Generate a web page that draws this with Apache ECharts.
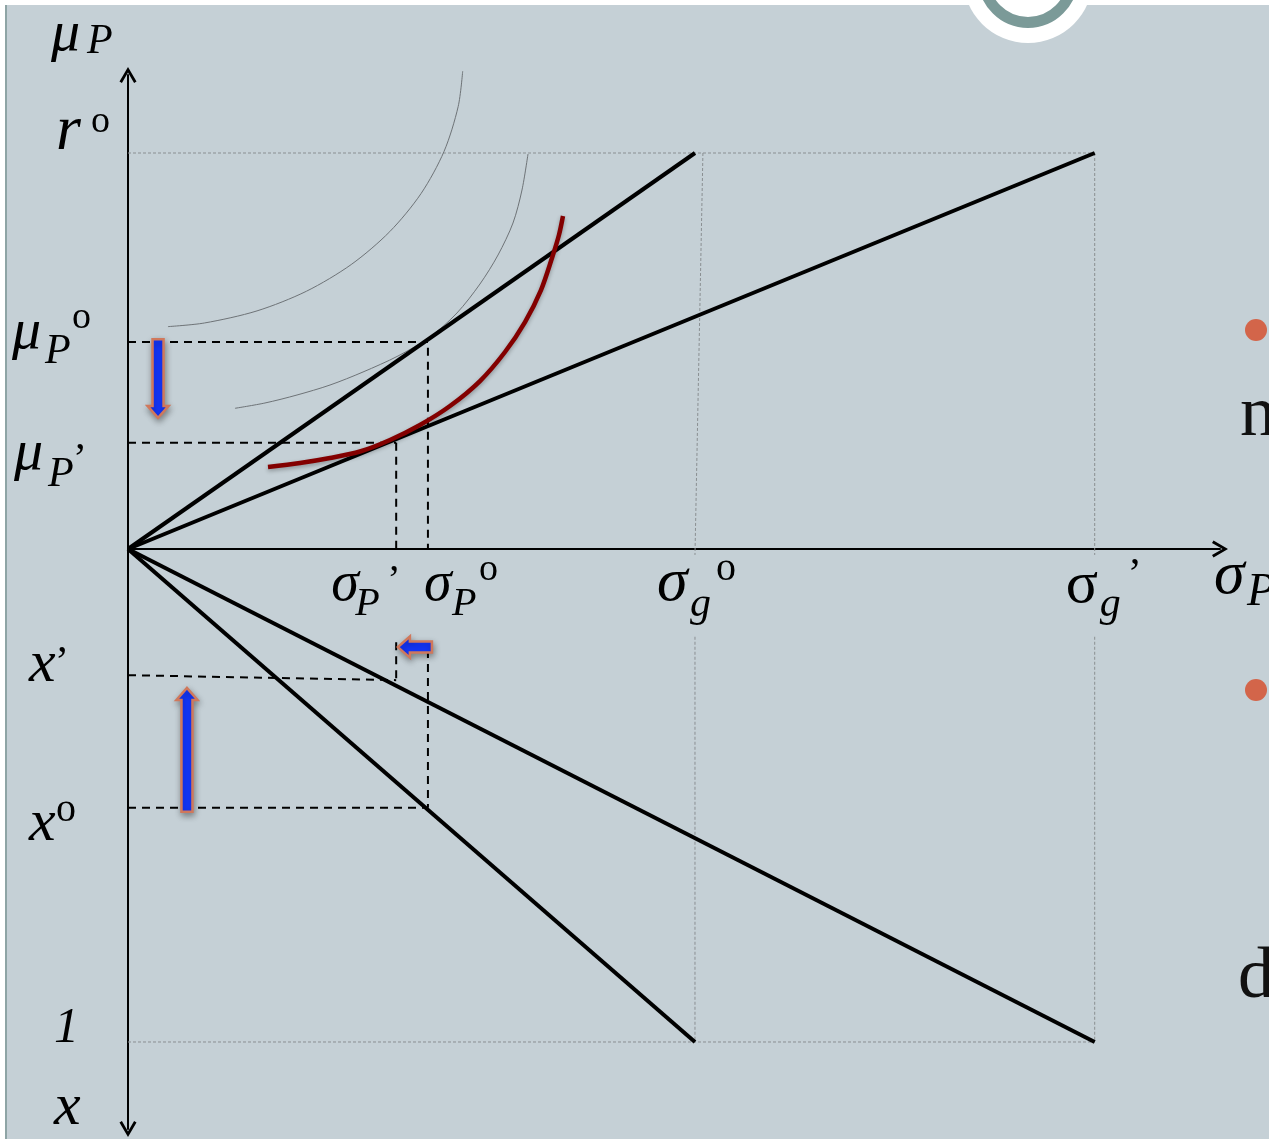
<!DOCTYPE html>
<html>
<head>
<meta charset="utf-8">
<script src="https://cdn.jsdelivr.net/npm/echarts@6/dist/echarts.min.js"></script>
<style>
  html, body { margin: 0; padding: 0; background: #ffffff; }
  #chart { width: 1269px; height: 1139px; }
</style>
</head>
<body>
<div id="chart"></div>
<script>
// Upper panel: expected return vs. standard deviation for two leverage lines.
// Lower panel: share x of wealth in the risky fund vs. standard deviation.
const rStar = 1;            // r°
const sigmaG0 = 1;          // σg°
const sigmaG1 = 1.705;      // σg'
const muP0 = 0.523;         // μP°
const muP1 = 0.268;         // μP'
const sigmaP0 = 0.529;      // σP°
const sigmaP1 = 0.473;      // σP'
const xShare0 = 0.525;      // x°
const xShare1 = [0.256, 0.266]; // x' (left end, right end of the guide)
const xOne = 1;             // x = 1

// axis ranges
const X_MAX = 1.926;
const MU_MAX = 1.197;
const XS_MAX = 1.1765;

// frontier of attainable (σ, μ) and two indifference curves
const frontier = [[0.2469, 0.2071], [0.3034, 0.2172], [0.3563, 0.2298], [0.4092, 0.2462],
                  [0.4621, 0.2753], [0.5150, 0.3131], [0.5679, 0.3611], [0.6208, 0.4242],
                  [0.6649, 0.4975], [0.7002, 0.5732], [0.7284, 0.6540], [0.7478, 0.7348],
                  [0.7601, 0.7929], [0.7672, 0.8409]];
const indiffOuter = [[0.0705, 0.5616], [0.1346, 0.5707], [0.2275, 0.6013], [0.3148, 0.6510],
                     [0.3937, 0.7184], [0.4617, 0.8015], [0.5169, 0.8977], [0.5575, 1.0043],
                     [0.5824, 1.1177], [0.5903, 1.2066]];
const indiffInner = [[0.1887, 0.3553], [0.2416, 0.3687], [0.2981, 0.3889], [0.3563, 0.4141],
                     [0.4145, 0.4470], [0.4762, 0.4874], [0.5326, 0.5354], [0.5802, 0.5960],
                     [0.6208, 0.6692], [0.6526, 0.7424], [0.6790, 0.8232], [0.6949, 0.9066],
                     [0.7055, 0.9975]];

// movement arrows: [fromX, fromY, toX, toY]
const arrowsTop = [[0.053, 0.530, 0.053, 0.331]];
const arrowsBottom = [[0.104, 0.533, 0.104, 0.282], [0.536, 0.199, 0.476, 0.199]];

// guide start points below the axis labels
const lowGuideStart = 0.178;
const lowDashStart = [0.189, 0.205];

const chevron = 'path://M0,14.5 L8.5,0 L17,14.5 L14.6,16 L8.5,5.5 L2.4,16 Z';
const axisLineStyle = { color: '#000', width: 2 };

const chart = echarts.init(document.getElementById('chart'), null, { renderer: 'canvas' });

function seg(name, data, style, grid) {
  return {
    name, type: 'line', data, xAxisIndex: grid, yAxisIndex: grid,
    symbol: 'none', silent: true, clip: false, animation: false,
    lineStyle: style
  };
}

const thick = { color: '#000', width: 4 };
const dashed = { color: '#000', width: 2, type: [8, 6] };
const dotted = { color: '#8a8f92', width: 1, type: [3, 2] };
const thin = { color: '#6e7377', width: 1 };

function arrowRender(params, api) {
  const p1 = api.coord([api.value(0), api.value(1)]);
  const p2 = api.coord([api.value(2), api.value(3)]);
  const dx = p2[0] - p1[0], dy = p2[1] - p1[1];
  const len = Math.sqrt(dx * dx + dy * dy);
  const ux = dx / len, uy = dy / len;
  const nx = -uy, ny = ux;
  const bw = 5.5, hw = 10.5, hl = 12;
  const bx = p2[0] - ux * hl, by = p2[1] - uy * hl;
  const pts = [
    [p1[0] + nx * bw, p1[1] + ny * bw],
    [bx + nx * bw, by + ny * bw],
    [bx + nx * hw, by + ny * hw],
    [p2[0], p2[1]],
    [bx - nx * hw, by - ny * hw],
    [bx - nx * bw, by - ny * bw],
    [p1[0] - nx * bw, p1[1] - ny * bw]
  ];
  return {
    type: 'polygon',
    shape: { points: pts },
    style: {
      fill: '#1437ff', stroke: '#d0785c', lineWidth: 2.5,
      shadowBlur: 6, shadowColor: 'rgba(0,0,0,0.35)', shadowOffsetX: 1, shadowOffsetY: 3
    }
  };
}

const option = {
  backgroundColor: '#ffffff',
  animation: false,
  grid: [
    { left: 128, top: 75, width: 1092, height: 474 },
    { left: 128, top: 549, width: 1092, height: 580 }
  ],
  xAxis: [
    {
      gridIndex: 0, type: 'value', min: 0, max: X_MAX,
      axisLine: { show: true, onZero: false, lineStyle: axisLineStyle, symbol: ['none', chevron], symbolSize: [17, 16] },
      axisTick: { show: false }, axisLabel: { show: false }, splitLine: { show: false }
    },
    {
      gridIndex: 1, type: 'value', min: 0, max: X_MAX, show: false,
      splitLine: { show: false }
    }
  ],
  yAxis: [
    {
      gridIndex: 0, type: 'value', min: 0, max: MU_MAX,
      axisLine: { show: true, onZero: false, lineStyle: axisLineStyle, symbol: ['none', chevron], symbolSize: [17, 16] },
      axisTick: { show: false }, axisLabel: { show: false }, splitLine: { show: false }
    },
    {
      gridIndex: 1, type: 'value', min: 0, max: XS_MAX, inverse: true,
      axisLine: { show: true, onZero: false, lineStyle: axisLineStyle, symbol: [chevron, 'none'], symbolSize: [17, 16] },
      axisTick: { show: false }, axisLabel: { show: false }, splitLine: { show: false }
    }
  ],
  series: [
    // upper panel guides
    seg('r° level', [[0, rStar], [sigmaG1, rStar]], dotted, 0),
    seg('σg° guide', [[sigmaG0 * 1.014, rStar], [sigmaG0, -0.015]], dotted, 0),
    seg('σg\' guide', [[sigmaG1, rStar], [sigmaG1, -0.015]], dotted, 0),
    seg('μP° level', [[0, muP0], [sigmaP0, muP0]], dashed, 0),
    seg('σP° drop', [[sigmaP0, muP0 - 0.015], [sigmaP0, 0]], dashed, 0),
    seg('μP\' level', [[0, muP1], [sigmaP1, muP1]], dashed, 0),
    seg('σP\' drop', [[sigmaP1, muP1], [sigmaP1, 0]], dashed, 0),
    // lower panel guides
    seg('x = 1 level', [[0, xOne], [sigmaG1, xOne]], dotted, 1),
    seg('σg° low', [[sigmaG0, lowGuideStart], [sigmaG0, xOne]], dotted, 1),
    seg('σg\' low', [[sigmaG1, lowGuideStart], [sigmaG1, xOne]], dotted, 1),
    seg('x° level', [[0, xShare0], [sigmaP0, xShare0]], dashed, 1),
    seg('σP° low', [[sigmaP0, lowDashStart[1]], [sigmaP0, xShare0]], dashed, 1),
    seg('x\' level', [[0, xShare1[0]], [sigmaP1, xShare1[1]]], dashed, 1),
    seg('σP\' low', [[sigmaP1, lowDashStart[0]], [sigmaP1, xShare1[1]]], dashed, 1),
    // indifference curves
    Object.assign(seg('indifference outer', indiffOuter, thin, 0), { smooth: 0.3 }),
    Object.assign(seg('indifference inner', indiffInner, thin, 0), { smooth: 0.3 }),
    // leverage lines
    seg('line σg° up', [[0, 0], [sigmaG0, rStar]], thick, 0),
    seg('line σg\' up', [[0, 0], [sigmaG1, rStar]], thick, 0),
    seg('line σg° down', [[0, 0], [sigmaG0, xOne]], thick, 1),
    seg('line σg\' down', [[0, 0], [sigmaG1, xOne]], thick, 1),
    // frontier
    Object.assign(seg('frontier', frontier, {
      color: '#830000', width: 4.5, shadowBlur: 4, shadowColor: 'rgba(0,0,0,0.3)', shadowOffsetY: 2
    }, 0), { smooth: 0.3 }),
    // arrows
    {
      type: 'custom', coordinateSystem: 'cartesian2d', xAxisIndex: 0, yAxisIndex: 0,
      renderItem: arrowRender, data: arrowsTop, silent: true, clip: false, z: 5
    },
    {
      type: 'custom', coordinateSystem: 'cartesian2d', xAxisIndex: 1, yAxisIndex: 1,
      renderItem: arrowRender, data: arrowsBottom, silent: true, clip: false, z: 5
    }
  ]
};

chart.setOption(option);

// math-style axis annotations, placed relative to axis points
const FONT = '"Liberation Serif", "DejaVu Serif", serif';
const labelSpecs = [
  { g: 0, at: [0, MU_MAX], parts: [['μ', -77, -40, 58, 1], ['P', -41, -33, 42, 1]] },
  { g: 0, at: [0, rStar], parts: [['r', -72, -21, 64, 1], ['o', -37, -31, 38, 0]] },
  { g: 0, at: [0, muP0], parts: [['μ', -116, -9, 58, 1], ['P', -83, 10, 42, 1], ['o', -56, -24, 38, 0]] },
  { g: 0, at: [0, muP1], parts: [['μ', -114, 11, 58, 1], ['P', -80, 32, 42, 1], ['’', -55, 18, 42, 0]] },
  { g: 1, at: [0, xShare1[0]], parts: [['x', -99, -9.5, 60, 1], ['’', -73, -11, 42, 0]] },
  { g: 1, at: [0, xShare0], parts: [['x', -99, 16, 60, 1], ['o', -72, 3, 40, 0]] },
  { g: 1, at: [0, xOne], parts: [['1', -74, -13, 50, 1]] },
  { g: 1, at: [0, XS_MAX], parts: [['x', -74, -21, 60, 1]] },
  { g: 0, at: [sigmaP1, 0], parts: [['σ', -65, 36, 56, 1], ['P', -41, 55, 40, 1], ['’', -9, 32, 40, 0]] },
  { g: 0, at: [sigmaP0, 0], parts: [['σ', -4, 36, 56, 1], ['P', 24, 55, 40, 1], ['o', 51, 21, 38, 0]] },
  { g: 0, at: [sigmaG0, 0], parts: [['σ', -38, 35, 62, 1], ['g', -5, 56, 42, 1], ['o', 21, 20, 40, 0]] },
  { g: 0, at: [sigmaG1, 0], parts: [['σ', -29, 37, 60, 0], ['g', 5, 56, 42, 1], ['’', 33, 27, 42, 0]] },
  { g: 0, at: [X_MAX, 0], parts: [['σ', -6, 28, 62, 1], ['P', 27, 44, 46, 1]] }
];

const graphics = [
  // slide panel
  { type: 'rect', z: -10, silent: true, shape: { x: 5, y: 5, width: 1264, height: 1134 }, style: { fill: '#c5d0d6' } },
  { type: 'line', z: -9, silent: true, shape: { x1: 6, y1: 5, x2: 6, y2: 1139 }, style: { stroke: '#8ea4a5', lineWidth: 2 } },
  // badge at the top edge
  { type: 'circle', z: -8, silent: true, shape: { cx: 1028, cy: -22, r: 65 }, style: { fill: '#ffffff' } },
  { type: 'circle', z: -7, silent: true, shape: { cx: 1028, cy: -22, r: 44.5 }, style: { fill: '#ffffff', stroke: '#7b9a98', lineWidth: 11 } },
  // bullets and text running in from the side
  { type: 'circle', z: -7, silent: true, shape: { cx: 1256, cy: 330, r: 11 }, style: { fill: '#d3654a' } },
  { type: 'circle', z: -7, silent: true, shape: { cx: 1256, cy: 690, r: 11 }, style: { fill: '#d3654a' } },
  { type: 'text', z: 10, silent: true, x: 1240, y: 416, style: { text: 'n', font: '72px ' + FONT, fill: '#111', verticalAlign: 'middle', align: 'left' } },
  { type: 'text', z: 10, silent: true, x: 1238, y: 978, style: { text: 'd', font: '72px ' + FONT, fill: '#111', verticalAlign: 'middle', align: 'left' } }
];

labelSpecs.forEach(function (spec) {
  const p = chart.convertToPixel({ gridIndex: spec.g }, spec.at);
  spec.parts.forEach(function (pt) {
    graphics.push({
      type: 'text', z: 10, silent: true,
      x: p[0] + pt[1], y: p[1] + pt[2],
      style: {
        text: pt[0],
        font: (pt[4] ? 'italic ' : '') + pt[3] + 'px ' + FONT,
        fill: '#000', align: 'left', verticalAlign: 'middle'
      }
    });
  });
});

chart.setOption({ graphic: graphics });
</script>
</body>
</html>
